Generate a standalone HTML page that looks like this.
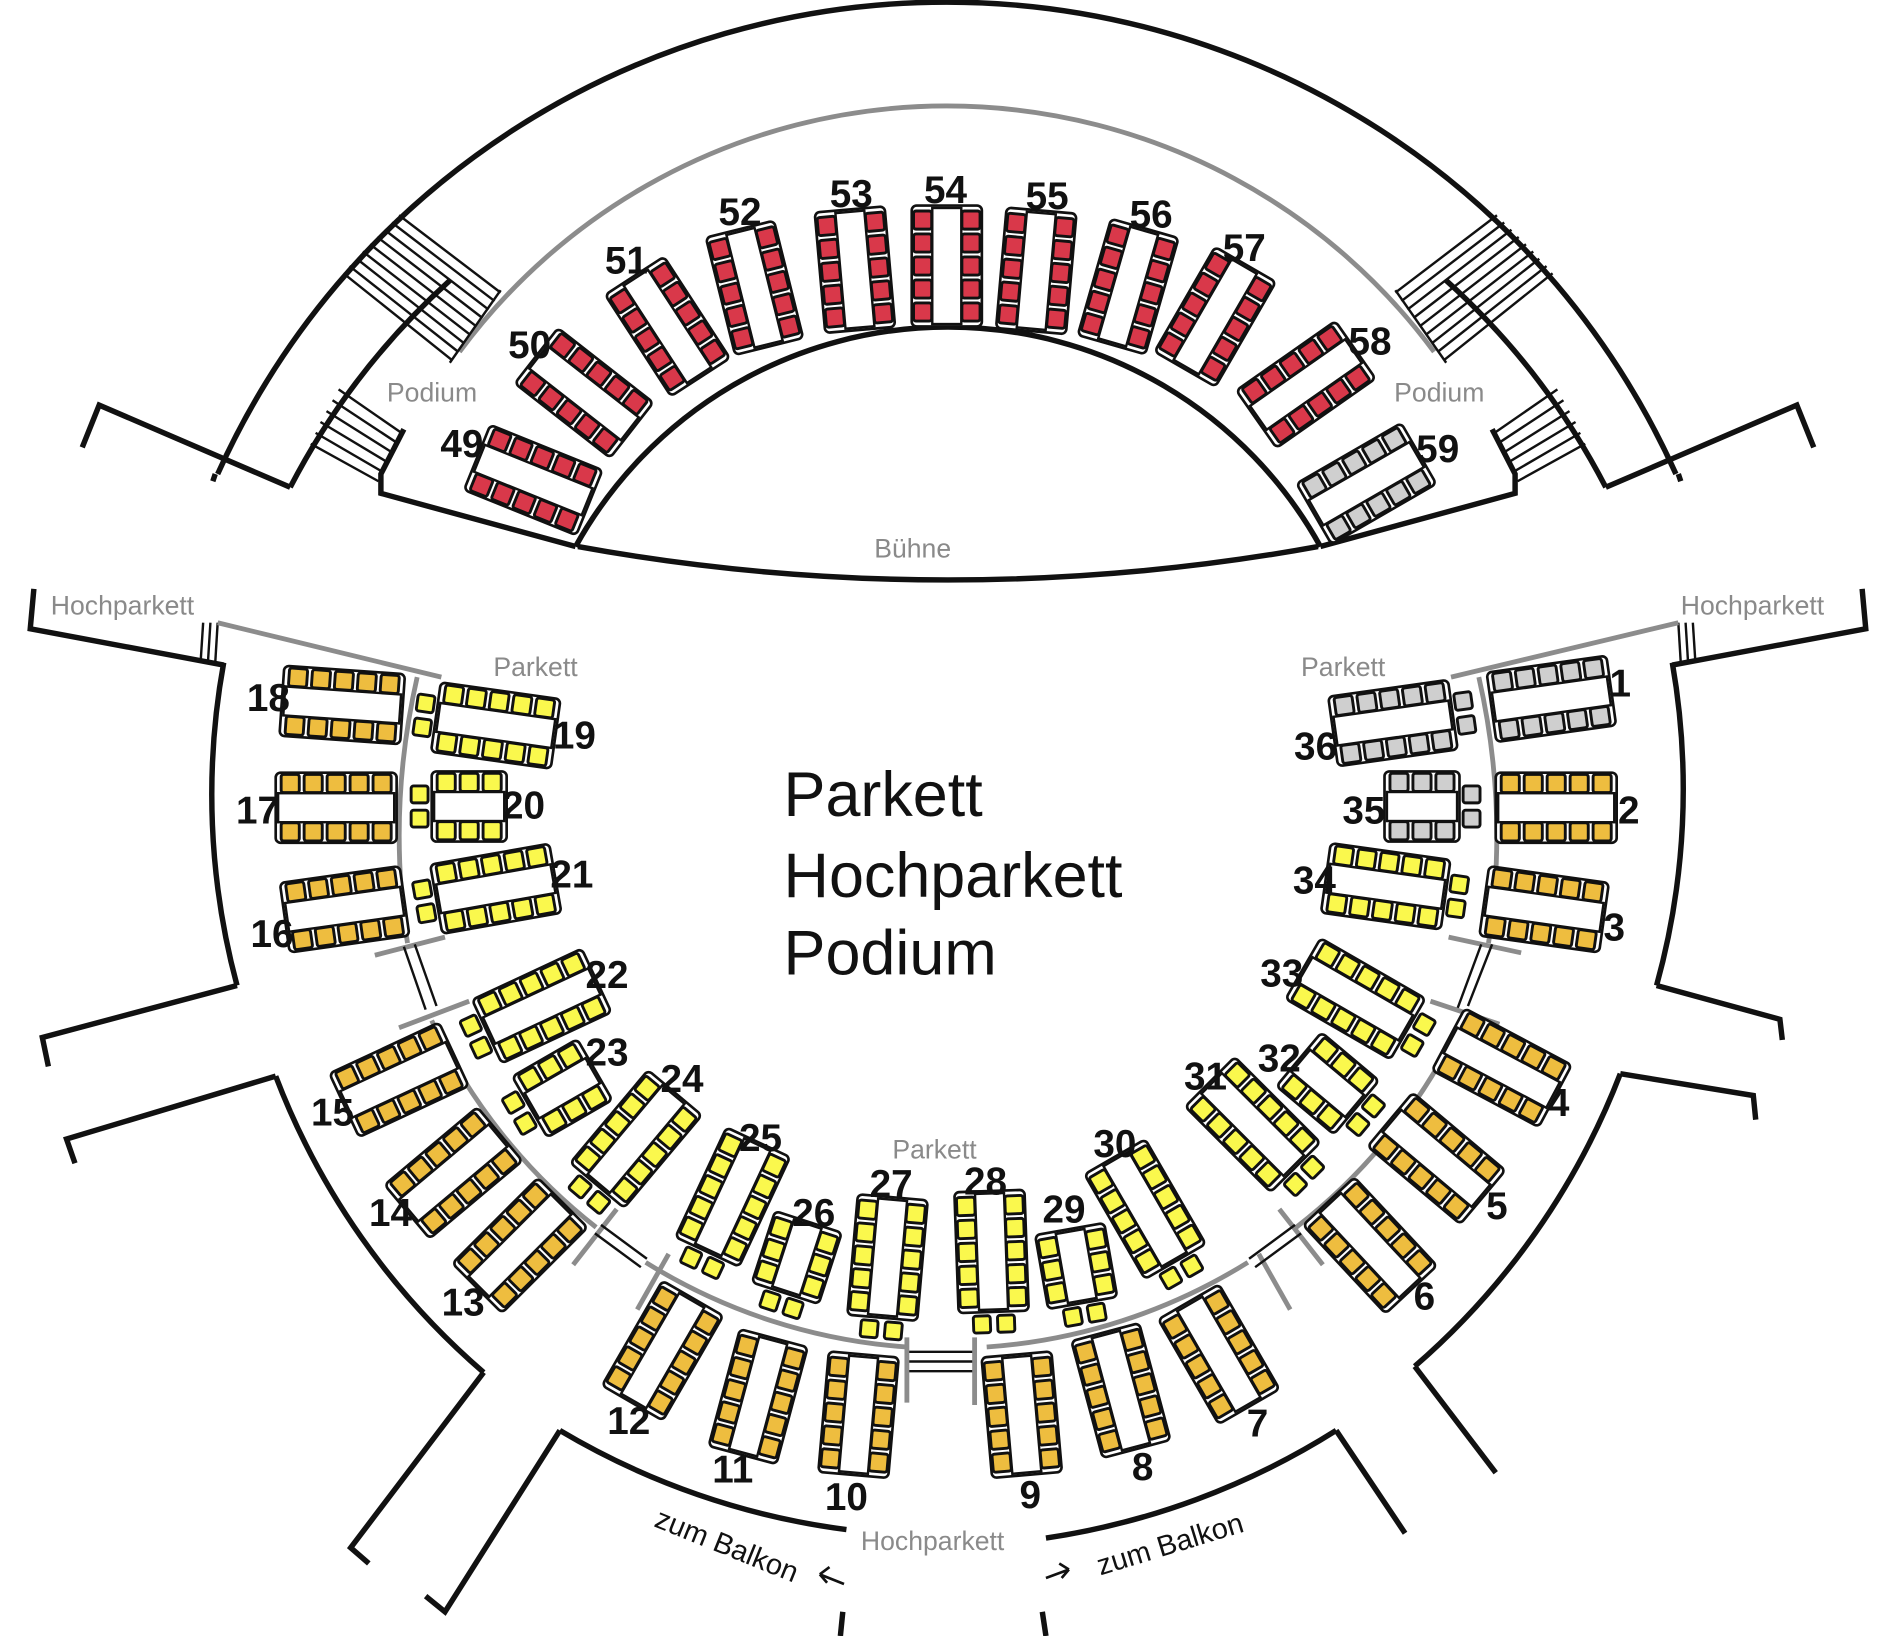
<!DOCTYPE html>
<html><head><meta charset="utf-8"><style>
html,body{margin:0;padding:0;background:#fff;}
svg{display:block;}
.n{font-family:"Liberation Sans Narrow","Liberation Sans",sans-serif;font-weight:bold;font-size:32px;fill:#111;text-anchor:middle;}
.g{font-family:"Liberation Sans",sans-serif;font-size:22px;fill:#8a8a8a;}
.w{fill:none;stroke:#111;stroke-width:4.5;}
.gr{fill:none;stroke:#8c8c8c;stroke-width:4;}
.t{fill:none;stroke:#111;stroke-width:2;}
</style></head><body>
<svg width="1896" height="1636" viewBox="0 0 1568 1353" xmlns="http://www.w3.org/2000/svg">
<defs>
<g id="T5">
<rect x="-50" y="-29" width="100" height="58" rx="4" fill="#fff" stroke="#111" stroke-width="2.2"/>
<rect x="-48" y="-12" width="96" height="24" fill="#fff" stroke="#111" stroke-width="2"/>
<g stroke="#111" stroke-width="2.4">
<rect x="-45.5" y="-27.5" width="15" height="15" rx="2"/><rect x="-26.5" y="-27.5" width="15" height="15" rx="2"/><rect x="-7.5" y="-27.5" width="15" height="15" rx="2"/><rect x="11.5" y="-27.5" width="15" height="15" rx="2"/><rect x="30.5" y="-27.5" width="15" height="15" rx="2"/>
<rect x="-45.5" y="12.5" width="15" height="15" rx="2"/><rect x="-26.5" y="12.5" width="15" height="15" rx="2"/><rect x="-7.5" y="12.5" width="15" height="15" rx="2"/><rect x="11.5" y="12.5" width="15" height="15" rx="2"/><rect x="30.5" y="12.5" width="15" height="15" rx="2"/>
</g></g>
<g id="T5E">
<use href="#T5"/>
<g stroke="#111" stroke-width="2.4"><rect x="-67" y="-17" width="14" height="14" rx="2"/><rect x="-67" y="3" width="14" height="14" rx="2"/></g>
</g>
<g id="T3E">
<rect x="-31" y="-29" width="62" height="58" rx="4" fill="#fff" stroke="#111" stroke-width="2.2"/>
<rect x="-29" y="-12" width="58" height="24" fill="#fff" stroke="#111" stroke-width="2"/>
<g stroke="#111" stroke-width="2.4">
<rect x="-26.5" y="-27.5" width="15" height="15" rx="2"/><rect x="-7.5" y="-27.5" width="15" height="15" rx="2"/><rect x="11.5" y="-27.5" width="15" height="15" rx="2"/>
<rect x="-26.5" y="12.5" width="15" height="15" rx="2"/><rect x="-7.5" y="12.5" width="15" height="15" rx="2"/><rect x="11.5" y="12.5" width="15" height="15" rx="2"/>
<rect x="-48" y="-17" width="14" height="14" rx="2"/><rect x="-48" y="3" width="14" height="14" rx="2"/>
</g></g>
</defs>

<!-- TOP / STAGE -->
<path class="w" d="M180,392 A661,661 0 0 1 1386,392"/>
<path class="w" d="M178,392 L176,398"/><path class="w" d="M1388,392 L1390,398"/>
<polyline class="w" points="68,370 82,335 240,403"/>
<polyline class="w" points="1500,370 1486,335 1328,403"/>
<path class="w" d="M240,403 A605,605 0 0 1 372,232"/>
<path class="w" d="M1328,403 A605,605 0 0 0 1196,232"/>
<path class="gr" d="M380,291 A501,501 0 0 1 1186,291"/>
<g class="t" stroke-width="2.2">
<line x1="330" y1="178" x2="414" y2="242"/><line x1="324" y1="184" x2="409" y2="249"/><line x1="318" y1="190" x2="404" y2="256"/><line x1="312" y1="196" x2="399" y2="263"/><line x1="306" y1="202" x2="394" y2="270"/><line x1="300" y1="208" x2="389" y2="277"/><line x1="295" y1="214" x2="384" y2="284"/><line x1="289" y1="220" x2="379" y2="291"/><line x1="284" y1="226" x2="374" y2="298"/>
<line x1="1238" y1="178" x2="1154" y2="242"/><line x1="1244" y1="184" x2="1159" y2="249"/><line x1="1250" y1="190" x2="1164" y2="256"/><line x1="1256" y1="196" x2="1169" y2="263"/><line x1="1262" y1="202" x2="1174" y2="270"/><line x1="1268" y1="208" x2="1179" y2="277"/><line x1="1273" y1="214" x2="1184" y2="284"/><line x1="1279" y1="220" x2="1189" y2="291"/><line x1="1284" y1="226" x2="1194" y2="298"/>
</g>
<line class="t" stroke-width="3" x1="414" y1="240" x2="372" y2="300"/>
<line class="t" stroke-width="3" x1="1154" y1="240" x2="1196" y2="300"/>
<g class="t" stroke-width="2.2">
<line x1="280" y1="322" x2="332" y2="358"/><line x1="275" y1="331" x2="328" y2="366"/><line x1="270" y1="340" x2="324" y2="374"/><line x1="265" y1="349" x2="320" y2="382"/><line x1="261" y1="358" x2="316" y2="390"/><line x1="257" y1="367" x2="313" y2="398"/>
<line x1="1288" y1="322" x2="1236" y2="358"/><line x1="1293" y1="331" x2="1240" y2="366"/><line x1="1298" y1="340" x2="1244" y2="374"/><line x1="1303" y1="349" x2="1248" y2="382"/><line x1="1307" y1="358" x2="1252" y2="390"/><line x1="1311" y1="367" x2="1255" y2="398"/>
</g>
<polyline class="w" points="334,355 315,392 315,408 476,452"/>
<polyline class="w" points="1234,355 1253,392 1253,408 1092,452"/>
<path class="w" d="M476,452 A352,352 0 0 1 1092,452"/>
<path class="w" d="M478,452 A1708,1708 0 0 0 1090,452"/>

<!-- LOWER WALLS -->
<polyline class="w" points="28,487 25,520 185,550"/>
<polyline class="w" points="1540,487 1543,520 1383,550"/>
<g class="t"><line x1="168" y1="515" x2="166" y2="546"/><line x1="174" y1="515" x2="172" y2="547"/><line x1="180" y1="515" x2="178" y2="548"/>
<line x1="1400" y1="515" x2="1402" y2="546"/><line x1="1394" y1="515" x2="1396" y2="547"/><line x1="1388" y1="515" x2="1390" y2="548"/></g>
<path class="w" d="M185,548 A608,608 0 0 0 196,815"/>
<path class="w" d="M1383,548 A608,608 0 0 1 1370,815"/>
<polyline class="w" points="196,815 35,858 40,882"/>
<polyline class="w" points="1370,815 1472,843 1474,860"/>
<polyline class="w" points="62,962 55,942 228,890"/>
<polyline class="w" points="1452,926 1450,906 1340,888"/>
<path class="w" d="M228,890 A610,610 0 0 0 400,1135"/>
<path class="w" d="M1340,888 A610,610 0 0 1 1170,1130"/>
<polyline class="w" points="400,1135 290,1280 305,1293"/>
<polyline class="w" points="1170,1130 1237,1218"/>
<polyline class="w" points="352,1320 368,1333 463,1183"/>
<polyline class="w" points="1105,1183 1162,1268"/>
<path class="w" d="M463,1183 A620,620 0 0 0 700,1265"/>
<path class="w" d="M865,1272 A620,620 0 0 0 1105,1183"/>
<path class="w" d="M697,1333 L695,1353"/><path class="w" d="M862,1333 L865,1353"/>

<!-- GRAY AISLES -->
<line class="gr" x1="180" y1="515" x2="365" y2="560"/>
<line class="gr" x1="1388" y1="515" x2="1200" y2="560"/>
<path class="gr" d="M345,560 Q320,670 337,780"/>
<path class="gr" d="M1223,560 Q1248,670 1231,780"/>
<line class="gr" x1="310" y1="790" x2="368" y2="775"/>
<line class="gr" x1="1198" y1="775" x2="1258" y2="788"/>
<g class="t"><line x1="334" y1="783" x2="352" y2="835"/><line x1="343" y1="781" x2="361" y2="832"/>
<line x1="1234" y1="781" x2="1214" y2="832"/><line x1="1225" y1="781" x2="1205" y2="835"/></g>
<line class="gr" x1="330" y1="850" x2="388" y2="828"/>
<line class="gr" x1="1183" y1="828" x2="1240" y2="847"/>
<path class="gr" d="M357,844 A470,470 0 0 0 493,1015"/>
<path class="gr" d="M534,1044 A470,470 0 0 0 750,1114"/>
<path class="gr" d="M816,1114 A470,470 0 0 0 1032,1044"/>
<path class="gr" d="M1072,1015 A470,470 0 0 0 1209,844"/>
<line class="gr" x1="474" y1="1046" x2="510" y2="1000"/>
<line class="gr" x1="527" y1="1083" x2="553" y2="1037"/>
<line class="gr" x1="1041" y1="1037" x2="1067" y2="1083"/>
<line class="gr" x1="1058" y1="1000" x2="1094" y2="1046"/>
<g class="t"><line x1="497" y1="1013" x2="535" y2="1041"/><line x1="492" y1="1020" x2="530" y2="1048"/>
<line x1="1033" y1="1041" x2="1071" y2="1013"/><line x1="1038" y1="1048" x2="1076" y2="1020"/>
<line x1="750" y1="1118" x2="805" y2="1118"/><line x1="750" y1="1126" x2="805" y2="1126"/><line x1="750" y1="1134" x2="805" y2="1134"/></g>
<line class="gr" x1="750" y1="1106" x2="750" y2="1160"/>
<line class="gr" x1="806" y1="1106" x2="806" y2="1162"/>

<!-- TABLES -->
<g fill="#d9384a">
<use href="#T5" transform="translate(441,397) rotate(22)"/>
<use href="#T5" transform="translate(483,325) rotate(38)"/>
<use href="#T5" transform="translate(552,270) rotate(57)"/>
<use href="#T5" transform="translate(624,238) rotate(76)"/>
<use href="#T5" transform="translate(707,223) rotate(85)"/>
<use href="#T5" transform="translate(783,220) rotate(90)"/>
<use href="#T5" transform="translate(857,224) rotate(95)"/>
<use href="#T5" transform="translate(933,237) rotate(106)"/>
<use href="#T5" transform="translate(1005,262) rotate(120)"/>
<use href="#T5" transform="translate(1080,318) rotate(-35)"/>
</g>
<g fill="#cfcfcf">
<use href="#T5" transform="translate(1130,400) rotate(-30)"/>
<use href="#T5" transform="translate(1283,578) rotate(-8)"/>
<use href="#T5E" transform="translate(1152,598) rotate(172)"/>
<use href="#T3E" transform="translate(1176,667) rotate(180)"/>
</g>
<g fill="#eebd3f">
<use href="#T5" transform="translate(1287,668)"/>
<use href="#T5" transform="translate(1277,752) rotate(8)"/>
<use href="#T5" transform="translate(1242,883) rotate(28)"/>
<use href="#T5" transform="translate(1188,958) rotate(40)"/>
<use href="#T5" transform="translate(1133,1030) rotate(47)"/>
<use href="#T5" transform="translate(1008,1120) rotate(-120)"/>
<use href="#T5" transform="translate(927,1150) rotate(-105)"/>
<use href="#T5" transform="translate(845,1170) rotate(-95)"/>
<use href="#T5" transform="translate(710,1170) rotate(-85)"/>
<use href="#T5" transform="translate(627,1155) rotate(-75)"/>
<use href="#T5" transform="translate(548,1117) rotate(-60)"/>
<use href="#T5" transform="translate(430,1030) rotate(-45)"/>
<use href="#T5" transform="translate(375,970) rotate(-40)"/>
<use href="#T5" transform="translate(330,893) rotate(-25)"/>
<use href="#T5" transform="translate(285,752) rotate(-8)"/>
<use href="#T5" transform="translate(278,668)"/>
<use href="#T5" transform="translate(283,583) rotate(4)"/>
</g>
<g fill="#faf84d">
<use href="#T5E" transform="translate(410,600) rotate(8)"/>
<use href="#T3E" transform="translate(388,667)"/>
<use href="#T5E" transform="translate(410,735) rotate(-10)"/>
<use href="#T5E" transform="translate(448,832) rotate(-25)"/>
<use href="#T3E" transform="translate(465,900) rotate(-30)"/>
<use href="#T5E" transform="translate(526,942) rotate(-50)"/>
<use href="#T5E" transform="translate(606,990) rotate(-65)"/>
<use href="#T3E" transform="translate(659,1040) rotate(-72)"/>
<use href="#T5E" transform="translate(734,1040) rotate(-85)"/>
<use href="#T5E" transform="translate(820,1035) rotate(-92)"/>
<use href="#T3E" transform="translate(890,1047) rotate(-100)"/>
<use href="#T5E" transform="translate(947,1000) rotate(-120)"/>
<use href="#T5E" transform="translate(1036,930) rotate(-135)"/>
<use href="#T3E" transform="translate(1098,896) rotate(-140)"/>
<use href="#T5E" transform="translate(1121,826) rotate(-150)"/>
<use href="#T5E" transform="translate(1146,733) rotate(-172)"/>
</g>

<!-- NUMBERS -->
<g class="n">
<text x="382" y="378">49</text><text x="438" y="296">50</text><text x="518" y="226">51</text><text x="612" y="186">52</text><text x="704" y="171">53</text><text x="782" y="168">54</text><text x="866" y="173">55</text><text x="952" y="188">56</text><text x="1029" y="216">57</text><text x="1133" y="293">58</text><text x="1189" y="382">59</text>
<text x="1340" y="576">1</text><text x="1347" y="681">2</text><text x="1335" y="778">3</text><text x="1289" y="923">4</text><text x="1238" y="1008">5</text><text x="1178" y="1083">6</text><text x="1040" y="1188">7</text><text x="945" y="1224">8</text><text x="852" y="1247">9</text><text x="700" y="1249">10</text><text x="606" y="1226">11</text><text x="520" y="1186">12</text><text x="383" y="1088">13</text><text x="323" y="1014">14</text><text x="275" y="931">15</text><text x="225" y="783">16</text><text x="213" y="681">17</text><text x="222" y="588">18</text>
<text x="475" y="619">19</text><text x="433" y="677">20</text><text x="473" y="734">21</text><text x="502" y="817">22</text><text x="502" y="881">23</text><text x="564" y="903">24</text><text x="629" y="952">25</text><text x="673" y="1014">26</text><text x="737" y="990">27</text><text x="815" y="988">28</text><text x="880" y="1011">29</text><text x="922" y="957">30</text><text x="997" y="901">31</text><text x="1058" y="886">32</text><text x="1060" y="816">33</text><text x="1087" y="739">34</text><text x="1128" y="681">35</text><text x="1088" y="628">36</text>
</g>

<!-- LABELS -->
<g class="g">
<text x="320" y="332">Podium</text><text x="1153" y="332">Podium</text>
<text x="723" y="461">Bühne</text>
<text x="42" y="508">Hochparkett</text><text x="1390" y="508">Hochparkett</text>
<text x="408" y="559">Parkett</text><text x="1076" y="559">Parkett</text><text x="738" y="958">Parkett</text>
<text x="712" y="1282">Hochparkett</text>
</g>
<g font-family="Liberation Sans,sans-serif" font-size="52" fill="#111">
<text x="648" y="675">Parkett</text><text x="648" y="742">Hochparkett</text><text x="648" y="806">Podium</text>
</g>
<g font-family="Liberation Sans,sans-serif" font-size="24" fill="#111">
<text transform="translate(540,1262) rotate(22)">zum Balkon</text>
<text transform="translate(910,1303) rotate(-17)">zum Balkon</text>
</g>
<g stroke="#111" stroke-width="2.2" fill="none">
<path d="M698,1310 L678,1302 M678,1302 L686,1296 M678,1302 L684,1309"/>
<path d="M865,1305 L884,1298 M884,1298 L876,1293 M884,1298 L878,1305"/>
</g>
</svg>
</body></html>
